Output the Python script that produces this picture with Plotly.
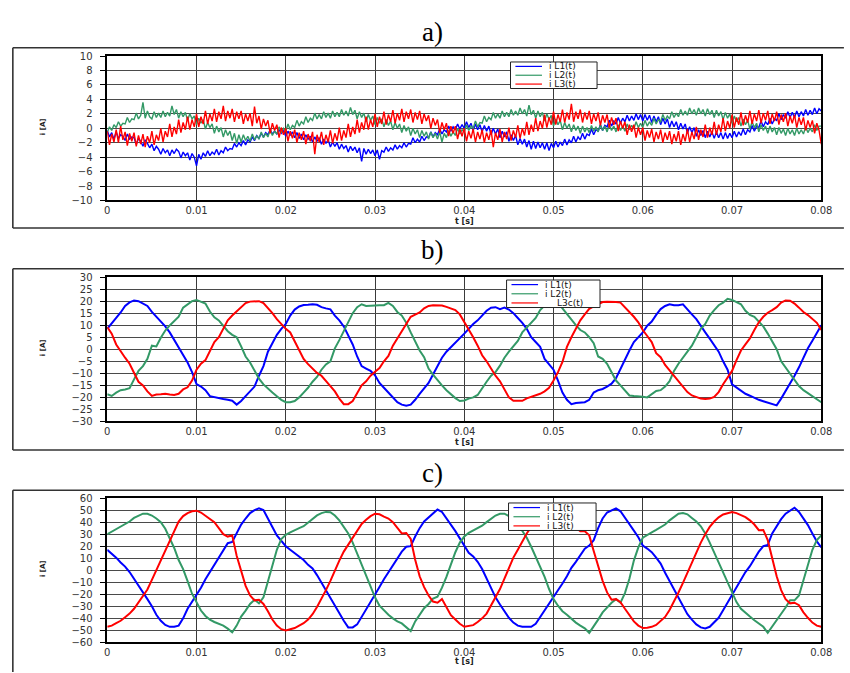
import plotly.graph_objects as go

# ---------------- data ----------------
# panel a: samples every 0.25 ms, 0 ... 80 ms
T_A = [round(i * 0.00025, 6) for i in range(321)]
BLUE_A = [
    -0.3, -1.2, -0.6, -1.5, -0.5, -1.4, -0.9, -1.1, -1.7, -0.8, -1.5, -1.2, -1.3, -2.2, -1.4, -1.8,
    -2.5, -1.6, -2.1, -2.7, -2.2, -3.1, -2.5, -2.9, -3.6, -2.8, -3.4, -3.0, -3.8, -3.0, -3.5, -2.9,
    -3.2, -4.1, -3.3, -3.8, -3.4, -4.4, -3.5, -4.0, -5.2, -3.6, -4.3, -3.4, -3.9, -3.1, -3.8, -3.3,
    -3.6, -2.9, -3.7, -3.1, -3.4, -2.6, -3.1, -2.8, -2.9, -2.1, -2.6, -2.0, -2.4, -1.7, -2.3, -1.6,
    -1.9, -1.2, -1.7, -1.0, -1.4, -0.7, -1.2, -0.6, -0.9, -0.2, -0.8, -0.4, -0.8, -0.2, -0.7, -0.3,
    -1.1, -0.4, -1.0, -0.5, -1.3, -0.6, -1.4, -0.8, -1.6, -0.9, -1.5, -1.1, -1.9, -1.2, -1.8, -1.3,
    -2.2, -1.5, -2.1, -1.6, -2.6, -1.9, -2.5, -2.0, -2.9, -2.2, -2.8, -2.4, -3.3, -2.5, -3.1, -2.6,
    -3.4, -2.7, -4.6, -2.8, -3.6, -2.9, -3.5, -3.0, -3.8, -3.0, -4.3, -3.1, -3.3, -2.6, -3.2, -2.7,
    -3.0, -2.3, -2.9, -2.4, -2.7, -2.0, -2.6, -2.1, -2.2, -1.3, -2.0, -1.5, -1.9, -1.1, -1.7, -1.2,
    -1.3, -0.5, -1.2, -0.6, -0.9, -0.1, -0.8, -0.2, -0.5, 0.3, -0.4, 0.2, -0.2, 0.6, -0.1, 0.5,
    0.0, 0.9, 0.1, 0.7, -0.3, 0.6, -0.2, 0.5, -0.5, 0.4, -0.4, 0.3, -0.9, 0.0, -0.8, -0.1,
    -1.3, -0.4, -1.2, -0.5, -1.8, -0.9, -1.7, -1.0, -2.3, -1.4, -2.2, -1.5, -2.6, -1.7, -2.9, -1.8,
    -2.8, -1.9, -2.7, -2.0, -2.9, -2.0, -3.1, -2.1, -2.7, -1.8, -2.6, -1.9, -2.4, -1.5, -2.3, -1.6,
    -2.0, -1.1, -1.9, -1.2, -1.6, -0.7, -1.5, -0.8, -1.0, -0.1, -0.9, -0.2, -0.4, 0.5, -0.3, 0.4,
    0.2, 1.1, 0.3, 1.0, 0.6, 1.5, 0.7, 1.4, 0.9, 1.8, 1.0, 1.7, 1.1, 2.0, 1.2, 1.9,
    1.0, 1.9, 1.1, 1.8, 0.8, 1.7, 0.9, 1.6, 0.5, 1.4, 0.6, 1.3, 0.1, 1.0, 0.2, 0.9,
    -0.2, 0.7, -0.1, 0.6, -0.7, 0.2, -0.6, 0.1, -1.1, -0.2, -1.0, -0.3, -1.3, -0.4, -1.2, -0.5,
    -1.4, -0.5, -1.3, -0.6, -1.5, -0.6, -1.4, -0.7, -1.3, -0.4, -1.2, -0.5, -1.0, -0.1, -0.9, -0.2,
    -0.5, 0.4, -0.4, 0.3, 0.1, 1.0, 0.2, 0.9, 0.5, 1.4, 0.6, 1.3, 1.1, 2.0, 1.2, 1.9,
    1.4, 2.3, 1.5, 2.2, 1.5, 2.4, 1.6, 2.3, 1.7, 2.6, 1.8, 2.5, 1.9, 2.8, 2.0, 2.7,
    2.4,
]
GREEN_A = [
    -0.6, 0.2, -0.3, 0.5, 0.1, 0.9, 0.3, 0.7, 0.6, 1.5, 0.8, 1.3, 1.2, 2.1, 1.3, 1.8,
    3.6, 1.4, 2.4, 1.6, 1.3, 2.3, 1.5, 2.1, 1.5, 2.4, 1.6, 2.2, 1.7, 3.1, 1.9, 2.6,
    1.4, 2.3, 1.6, 2.2, 1.1, 2.0, 1.3, 1.7, 0.5, 1.4, 0.7, 1.2, -0.1, 0.8, 0.1, 0.6,
    -0.7, 0.3, -0.5, 0.1, -1.2, -0.2, -1.0, -0.4, -1.7, -0.7, -2.1, -0.9, -1.9, -0.9, -1.7, -1.1,
    -1.8, -0.8, -1.6, -1.0, -1.5, -0.5, -1.3, -0.7, -1.2, -0.2, -1.0, -0.4, -0.8, 0.2, -0.6, 0.0,
    -0.4, 0.6, -0.2, 0.4, 0.1, 1.1, 0.3, 0.9, 0.6, 1.6, 0.8, 1.4, 1.1, 2.1, 1.3, 1.9,
    1.3, 2.3, 1.5, 2.1, 1.4, 2.4, 1.6, 2.2, 1.6, 2.6, 1.8, 2.4, 1.7, 2.9, 1.9, 2.5,
    1.3, 2.3, 1.5, 2.1, 0.9, 1.9, 1.1, 1.7, 0.5, 1.5, 0.7, 1.3, 0.2, 1.2, 0.4, 1.0,
    -0.2, 0.8, 0.0, 0.6, -0.6, 0.4, -0.4, 0.2, -1.0, 0.0, -0.8, -0.2, -1.3, -0.3, -1.1, -0.5,
    -1.5, -0.5, -1.3, -0.7, -1.5, -0.5, -1.9, -0.7, -1.3, -0.3, -1.1, -0.5, -1.0, 0.0, -0.8, -0.2,
    -0.5, 0.5, -0.3, 0.3, 0.0, 1.0, 0.2, 0.8, 0.7, 1.7, 0.9, 1.5, 1.2, 2.2, 1.4, 2.0,
    1.4, 2.4, 1.6, 2.2, 1.6, 2.6, 1.8, 2.4, 1.8, 2.8, 2.0, 2.6, 1.7, 3.2, 1.9, 2.5,
    1.4, 2.4, 1.6, 2.2, 1.0, 2.0, 1.2, 1.8, 0.3, 1.3, 0.5, 1.1, -0.2, 0.8, 0.0, 0.6,
    -0.5, 0.5, -0.3, 0.3, -0.7, 0.3, -0.5, 0.1, -0.6, 0.4, -0.4, 0.2, -0.5, 0.5, -0.3, 0.3,
    -0.5, 0.5, -0.3, 0.3, -0.5, 0.5, -0.3, 0.3, -0.4, 0.6, -0.2, 0.4, -0.1, 0.9, 0.1, 0.7,
    0.1, 1.1, 0.3, 0.9, 0.4, 1.4, 0.6, 1.2, 0.9, 1.9, 1.1, 1.7, 1.3, 2.3, 1.5, 2.1,
    1.6, 2.6, 1.8, 2.4, 1.8, 2.8, 2.0, 2.6, 1.8, 2.8, 2.0, 2.6, 1.7, 2.7, 1.9, 2.5,
    1.5, 2.5, 1.7, 2.3, 1.2, 2.2, 1.4, 2.0, 0.7, 1.7, 0.9, 1.5, 0.3, 1.3, 0.5, 1.1,
    -0.1, 0.9, 0.1, 0.7, -0.5, 0.5, -0.3, 0.3, -0.7, 0.3, -0.5, 0.1, -0.9, 0.1, -0.7, -0.1,
    -1.0, 0.0, -0.8, -0.2, -1.0, 0.0, -0.8, -0.2, -0.8, 0.2, -0.6, 0.0, -0.5, 0.5, -0.3, 0.3,
    0.3,
]
RED_A = [
    -0.4, -2.3, -0.8, -1.9, -0.2, -2.0, 0.3, -1.6, -0.5, -2.4, -0.7, -1.8, -0.6, -2.5, -1.0, -2.2,
    -0.8, -2.6, -1.1, -2.0, -0.4, -2.3, -0.9, -1.7, 0.0, -1.9, -0.4, -1.2, 0.6, -1.2, 0.2, -0.8,
    1.2, -0.6, 0.8, -0.2, 1.6, -0.2, 1.2, 0.2, 2.0, 0.2, 1.6, 0.6, 2.4, 0.6, 2.0, 1.0,
    2.7, 0.9, 2.3, 1.3, 3.1, 1.0, 2.4, 1.4, 2.7, 0.9, 2.3, 1.3, 2.4, 0.6, 2.0, 1.0,
    2.1, 0.3, 3.0, 0.7, 1.7, -0.1, 1.3, 0.3, 1.1, -0.7, 0.7, -0.3, 0.5, -1.3, 0.1, -0.9,
    0.0, -1.8, -0.4, -1.4, -0.2, -2.0, -0.6, -1.6, -0.4, -2.2, -0.8, -1.8, -0.5, -3.6, -0.9, -1.9,
    -0.5, -2.3, -0.9, -1.9, -0.3, -2.1, -0.7, -1.7, 0.1, -1.7, -0.3, -1.3, 0.6, -1.2, 0.2, -0.8,
    1.2, -0.6, 0.8, -0.2, 1.6, -0.2, 1.2, 0.2, 2.0, 0.2, 1.6, 0.6, 2.3, 0.5, 1.9, 0.9,
    2.5, 0.7, 2.1, 1.1, 2.7, 0.9, 2.3, 1.3, 2.6, 0.8, 2.2, 1.2, 2.4, 0.6, 2.0, 1.0,
    1.8, 0.0, 1.4, 0.4, 1.2, -0.6, 0.8, -0.2, 0.7, -1.1, 0.3, -0.7, 0.3, -1.5, -0.1, -1.1,
    0.0, -1.8, -0.4, -1.4, -0.1, -1.9, -0.5, -1.5, -0.2, -2.0, -0.6, -1.6, -0.2, -2.6, -0.6, -1.6,
    -0.1, -1.9, -0.5, -1.5, 0.1, -1.7, -0.3, -1.3, 0.4, -1.4, 0.0, -1.0, 0.9, -0.9, 0.5, -0.5,
    1.4, -0.4, 1.0, 0.0, 1.9, 0.1, 1.5, 0.5, 2.3, 0.5, 1.9, 0.9, 2.6, 0.8, 2.2, 1.2,
    3.4, 0.9, 2.3, 1.3, 2.6, 0.8, 2.2, 1.2, 2.4, 0.6, 2.0, 1.0, 2.2, 0.4, 1.8, 0.8,
    1.9, 0.1, 1.5, 0.5, 1.4, -0.4, 1.0, 0.0, 0.9, -0.9, 0.5, -0.5, 0.5, -1.3, 0.1, -0.9,
    0.1, -1.7, -0.3, -1.3, -0.1, -1.9, -0.5, -1.5, -0.2, -2.0, -0.6, -1.6, -0.4, -2.2, -0.8, -1.8,
    -0.4, -2.3, -0.8, -1.8, -0.1, -1.9, -0.5, -1.5, 0.2, -1.6, -0.2, -1.2, 0.5, -1.3, 0.1, -0.9,
    0.9, -0.9, 0.5, -0.5, 1.4, -0.4, 1.0, 0.0, 1.9, 0.1, 1.5, 0.5, 2.2, 0.4, 1.8, 0.8,
    2.4, 0.6, 2.0, 1.0, 2.5, 0.7, 2.1, 1.1, 2.4, 0.6, 2.0, 1.0, 2.3, 0.5, 1.9, 0.9,
    2.1, 0.3, 1.7, 0.7, 1.9, 0.1, 1.5, 0.5, 1.5, -0.3, 1.1, 0.1, 1.1, -0.7, 0.7, -0.3,
    -2.2,
]

# panels b and c: samples every 0.5 ms, 0 ... 80 ms
T_BC = [round(i * 0.0005, 6) for i in range(161)]
BLUE_B = [
    8.5, 11, 13, 15.3, 18, 19.5, 20.3, 20, 19, 18, 15.5, 13.5, 11.8, 9.5, 7, 4, 1, -2.5, -5.5, -9.5,
    -14.5, -15.5, -17, -19.5, -20, -20.5, -20.7, -21, -21.4, -23, -21.5, -19.5, -17.3, -15.5, -11, -7, -1, 2.5, 6, 8.5,
    10.5, 14, 16.5, 17.8, 18.4, 18.5, 18.7, 18.5, 17.5, 17, 16.6, 14, 12, 9.5, 6, 2, -3, -7, -8, -9,
    -10.8, -14, -16, -18, -19.6, -22, -23, -23.5, -23, -21, -18.5, -16.3, -14, -10.5, -7, -3.5, -1, 0.8, 3, 4.5,
    6.5, 8.5, 10.5, 12, 14, 16, 17.3, 17.5, 16.7, 17.3, 16.5, 15, 13, 11, 8.5, 5, 3, 1, -4, -6.5,
    -8.5, -13, -18, -21, -22.8, -22.3, -22, -22, -21, -18, -17, -16.5, -15.5, -14.3, -12, -8, -4.5, -0.5, 3, 5,
    7, 9.8, 11.5, 14.3, 16.7, 18, 18.7, 18.3, 18.3, 18.7, 16.8, 14.5, 12.5, 9.5, 7, 4.4, 1.8, -1, -5, -8.5,
    -14.6, -16, -17.3, -18.5, -19.3, -20.3, -21, -21.6, -22.2, -22.8, -23.3, -20.5, -17.5, -14.5, -11, -7.5, -3.5, 0.4, 3.5, 7,
    10,
]
GREEN_B = [
    -18.7, -19.4, -18, -17, -16.7, -16.2, -12.5, -9, -7, -4, 1.5, 1.2, 4.8, 7.8, 9.9, 11.5, 13.5, 17.3, 18.8, 20,
    20.5, 19.8, 19, 15.7, 13.3, 12, 9.6, 7.5, 6, 5, 1.2, -3, -5.5, -9, -12.2, -14.6, -16.5, -18, -19.5, -21,
    -22, -22, -21.5, -20, -18, -16, -13.5, -11.5, -8.5, -6.3, -5, 0.4, 3.8, 7.5, 11.5, 15, 17.5, 18.7, 18, 18.2,
    18.3, 18.3, 18.3, 19.3, 18, 15.5, 14, 11, 7, 3.5, -0.5, -3.3, -8, -10.5, -13, -15, -17, -18.7, -20.3, -21.5,
    -21.3, -20.5, -20, -19, -16, -13.5, -11, -9.5, -6.8, -3.5, -1, 1.2, 3.5, 7, 9, 11, 13, 16.3, 18.3, 20,
    20.3, 19.5, 17, 14.5, 12.5, 10, 8, 7, 5, 2.5, -3, -4, -6, -9.5, -13, -15, -17, -19.2, -19.4, -19.4,
    -19.7, -20, -18.5, -17.3, -17, -15.5, -13.3, -9, -6, -3.7, -1, 1.5, 4.8, 8.5, 10.5, 14, 16.3, 18.3, 19.4, 21,
    20.5, 19.6, 18.7, 16, 14.3, 13.5, 11.5, 9.5, 6.5, 3, 0, -5, -7.5, -10.5, -13, -15.3, -17, -18.2, -19.5, -20.8,
    -22,
]
RED_B = [
    9.2, 6.5, 2, -1, -3.5, -6, -9.5, -13.5, -15, -17.5, -19.4, -18.8, -18.7, -18.5, -18.8, -19, -18.5, -16.7, -15.8, -13,
    -8.5, -6, -4.5, -0.5, 3, 5, 8.5, 12, 14, 15.8, 17.5, 19.2, 19.8, 20, 20, 19.2, 17.3, 15, 12.5, 10.5,
    8.5, 7, 3.5, -0.5, -4, -6.2, -8, -9.8, -11, -13, -15.3, -17.5, -20.5, -22.8, -22.8, -21.5, -18, -15, -13.3, -11,
    -9.3, -7.8, -5, -2.8, 1.5, 4.5, 8, 10.8, 13.5, 14.4, 15.3, 17, 18, 18.3, 18.4, 18.2, 17.6, 17, 16.3, 14.5,
    11.5, 8.5, 5, 1.5, -2.5, -5, -8, -11, -13.3, -17, -20, -21.4, -21.4, -21.4, -20.4, -19.8, -19.4, -18.5, -17.5, -16,
    -13, -9.5, -5.3, 1, 5, 8.5, 12, 14.5, 16.8, 17.8, 18.8, 19.6, 19.7, 19.8, 19.6, 19.4, 17.5, 15.7, 13.5, 11.2,
    8, 5.5, 3, -1.6, -3.3, -6.5, -8.8, -10.8, -13.3, -15.8, -17.8, -19.2, -20, -20.5, -20.7, -20.5, -19.8, -17.8, -14.5, -12,
    -9, -4.5, -0.5, 2, 4.5, 8, 11.2, 13.5, 15.2, 16.3, 17.5, 19.4, 20.3, 20.2, 19, 17.3, 15.5, 14.2, 12.6, 11,
    8,
]
BLUE_C = [
    17, 14, 10.5, 6.5, 3, -1.5, -7, -12, -18, -24, -30, -37, -42, -45.5, -47, -47, -46, -40, -32, -26,
    -21, -14.5, -7.5, -1.5, 5, 11, 16.5, 22.5, 23.5, 31, 38, 43, 47.5, 50, 51.5, 50, 43.5, 36, 29, 24,
    20, 17, 14, 11.5, 8.5, 4.5, 1.5, -4, -10.5, -17, -23, -30, -36, -42, -47.5, -47.5, -45, -39, -32.5, -26.5,
    -20, -14, -7.5, -2, 4, 10, 15.5, 19.5, 20, 28, 35, 40.5, 44, 47.5, 50.5, 48.5, 43.5, 38, 32.5, 26.5,
    20, 14.5, 11.5, 7, 1, -7, -15, -22.5, -28.5, -34.5, -39.5, -43.5, -46, -47, -47, -47, -44.5, -39, -34, -28,
    -22.5, -16.5, -11, -5, 2, 7, 13, 18, 20.5, 25, 35, 43, 48, 50, 51.5, 49, 44, 39, 33, 27.5,
    20.5, 18, 15, 10.5, 5.5, -2, -9, -16, -22.5, -30, -36.5, -41, -45, -47.5, -48.3, -47, -43.5, -39.5, -33.3, -27,
    -21, -14.3, -7.5, -1.5, 3.4, 10, 15.5, 20, 21, 30.6, 37, 42.5, 47, 49.5, 52, 48.5, 43, 37.5, 30.6, 24,
    19,
]
GREEN_C = [
    30, 32, 34.5, 36.5, 38.5, 40.5, 43.5, 45.5, 47, 47, 45.5, 43, 40, 34.5, 27, 18.5, 8.5, 1, -9, -19.5,
    -26.5, -33.5, -38, -41, -43, -44.5, -46, -48.5, -51.5, -46, -38.5, -33.5, -28, -24.5, -27.5, -22.5, -10, 3, 17, 26,
    29.5, 31.5, 33.5, 35, 36.6, 39.5, 42.5, 45.6, 47.5, 48.5, 48.3, 45.5, 41.5, 36.5, 30.5, 23, 14, 5, -4.5, -14.5,
    -22.5, -29.5, -33.5, -37, -40, -42.5, -44.2, -47.5, -50.5, -42.5, -36.5, -31.5, -28, -23.5, -22, -14.5, -5.5, 5, 15, 23,
    28, 31, 33, 35, 37, 40, 43, 45.5, 47, 47, 45, 42.5, 38.5, 33, 27, 19.5, 11, 3, -5.5, -15.6,
    -24, -29.5, -34, -37, -40.5, -43.5, -46, -48.3, -52, -47, -41, -35, -30.6, -27, -24, -27, -19, -7, 8, 19,
    27, 29.5, 31.5, 33.5, 35.5, 38, 41.5, 44.5, 47, 47.5, 46.5, 43.5, 40.5, 36.5, 30.5, 23, 14.5, 6, -2.5, -11,
    -19, -26.5, -32, -35.5, -38.5, -41.5, -44, -47, -52, -47, -41, -36, -31, -25, -25, -21, -8, 5, 17, 25,
    29,
]
RED_C = [
    -47, -46, -44, -42, -39, -36, -32, -27, -21, -16, -8, 0, 9, 17, 25, 33, 40.5, 45, 47.5, 49,
    49.5, 48, 45.5, 43, 40, 35, 30, 28, 29, 12, -1, -13, -21, -25, -24.5, -28, -34, -41, -46, -49,
    -50, -49, -48, -46, -44, -41, -36.5, -30.6, -24, -16.5, -8.8, 0, 8, 15.5, 21.5, 27.5, 33.5, 38.5, 42, 45,
    47, 46.5, 44.5, 43, 40, 35.5, 30.6, 31, 26, 8.8, -5, -14, -21, -26, -27, -24, -31, -37.4, -41, -44.5,
    -47, -46.5, -45.6, -43, -40, -36, -29.5, -22, -15.6, -7, 2, 10.5, 17, 24, 30.5, 36, 41, 45, 47.5, 48.5,
    48.5, 47, 45, 42, 39, 35.5, 32.5, 32.5, 29, 16, 3.4, -8.8, -18.4, -24.5, -24, -26.5, -32, -37.4, -42.5, -46,
    -48, -47.7, -47, -45.5, -42.5, -38.8, -33, -26, -18.5, -10.5, -2, 6.5, 15, 23, 30, 36, 40.5, 44, 46.4, 47.5,
    48.3, 47.5, 46, 44.2, 41.5, 38, 33.3, 33.5, 25, 8.8, -5, -16.5, -24, -27.5, -27, -29, -35, -39.5, -43.5, -46,
    -47,
]

X_TICKS = [0, 0.01, 0.02, 0.03, 0.04, 0.05, 0.06, 0.07, 0.08]
X_TICK_TEXT = ["0", "0.01", "0.02", "0.03", "0.04", "0.05", "0.06", "0.07", "0.08"]
PANEL_TITLES = ["a)", "b)", "c)"]
SERIES_NAMES = ["i L1(t)", "i L2(t)", "i L3(t)"]
LEGEND_TEXTS = [["i L1(t)", "i L2(t)", "i L3(t)"],
                ["i L1(t)", "i L2(t)", "L3c(t)"],
                ["i L1(t)", "i L2(t)", "i L3(t)"]]
Y_RANGES = [(-10, 10, 2), (-30, 30, 5), (-60, 60, 10)]

# ---------------- styling ----------------
W, H = 850, 673
COLORS = ["#0000ff", "#339966", "#ff0000"]
TICK_FONT = dict(family="DejaVu Sans", size=10, color="#333333")


def px(x):
    return x / W


def py(y):
    return 1 - y / H


PLOT_L, PLOT_R = 106, 832
PANEL_Y = [(51, 198), (276, 423), (501, 648)]
FRAME_Y = [(42.5, 226), (267.5, 452), (493, 700)]
TITLE_Y = [26, 248, 475]
XLABEL_Y = [219.5, 444.5, 667.5]
YLABEL_Y = [123, 348, 573]
LEGEND_BOX = [(516, 57, 604, 84), (512, 279, 607, 307), (514, 506, 603, 534)]

fig = go.Figure()

panels = [
    (T_A, [BLUE_A, GREEN_A, RED_A], 1.4),
    (T_BC, [BLUE_B, GREEN_B, RED_B], 2.0),
    (T_BC, [BLUE_C, GREEN_C, RED_C], 2.0),
]

for p, (tt, series, lw) in enumerate(panels):
    xa = "x" if p == 0 else f"x{p + 1}"
    ya = "y" if p == 0 else f"y{p + 1}"
    for s, vals in enumerate(series):
        fig.add_trace(go.Scatter(
            x=tt, y=vals, mode="lines", name=SERIES_NAMES[s],
            line=dict(color=COLORS[s], width=lw),
            xaxis=xa, yaxis=ya, showlegend=False, hoverinfo="skip",
        ))

# figure fills whatever the browser viewport is (850x673 intended)
layout = dict(
    autosize=True,
    margin=dict(l=0, r=0, t=0, b=0, pad=0),
    paper_bgcolor="white", plot_bgcolor="white",
    showlegend=False,
)

shapes = []
annotations = []
for p in range(3):
    top, bot = PANEL_Y[p]
    xk = "xaxis" if p == 0 else f"xaxis{p + 1}"
    yk = "yaxis" if p == 0 else f"yaxis{p + 1}"
    ylo, yhi, dy = Y_RANGES[p]
    layout[xk] = dict(
        domain=[px(PLOT_L), px(PLOT_R)], range=[0, 0.08],
        anchor="y" if p == 0 else f"y{p + 1}",
        tickmode="array", tickvals=X_TICKS, ticktext=X_TICK_TEXT,
        showgrid=True, gridcolor="#3a3a3a", gridwidth=1,
        showline=True, linecolor="#000000", linewidth=1.5, mirror=True,
        ticks="", tickfont=TICK_FONT, zeroline=False, fixedrange=True,
    )
    layout[yk] = dict(
        domain=[py(bot), py(top)], range=[ylo, yhi],
        anchor="x" if p == 0 else f"x{p + 1}",
        tickmode="linear", tick0=ylo, dtick=dy,
        showgrid=True, gridcolor="#4a4a4a", gridwidth=1,
        showline=True, linecolor="#000000", linewidth=1.5, mirror=True,
        ticks="outside", ticklen=6, tickcolor="#000000", tickwidth=1,
        ticklabelstandoff=5,
        tickfont=TICK_FONT, zeroline=False, fixedrange=True,
    )

    ft, fb = FRAME_Y[p]
    frame_style = dict(color="#333333", width=1.6)
    shapes.append(dict(type="line", xref="paper", yref="paper",
                       x0=px(10), x1=px(W + 5), y0=py(ft), y1=py(ft), line=frame_style))
    shapes.append(dict(type="line", xref="paper", yref="paper",
                       x0=px(10), x1=px(10), y0=py(ft), y1=py(min(fb, H + 5)), line=frame_style))
    if fb < H:
        shapes.append(dict(type="line", xref="paper", yref="paper",
                           x0=px(10), x1=px(W + 5), y0=py(fb), y1=py(fb), line=frame_style))

    annotations.append(dict(text=PANEL_TITLES[p], xref="paper", yref="paper",
                            x=px(437), y=py(TITLE_Y[p]), xanchor="center", yanchor="middle",
                            showarrow=False,
                            font=dict(family="Liberation Serif", size=27, color="#000000")))
    annotations.append(dict(text="<b>t [s]</b>", xref="paper", yref="paper",
                            x=px(469), y=py(XLABEL_Y[p]), xanchor="center", yanchor="middle",
                            showarrow=False,
                            font=dict(family="DejaVu Sans", size=8, color="#222222")))
    annotations.append(dict(text="<b>i [A]</b>", xref="paper", yref="paper",
                            x=px(40), y=py(YLABEL_Y[p]), xanchor="center", yanchor="middle",
                            textangle=-90, showarrow=False,
                            font=dict(family="DejaVu Sans", size=7, color="#222222")))

    lx0, ly0, lx1, ly1 = LEGEND_BOX[p]
    shapes.append(dict(type="rect", xref="paper", yref="paper",
                       x0=px(lx0), x1=px(lx1), y0=py(ly0), y1=py(ly1),
                       fillcolor="white", line=dict(color="#222222", width=1), layer="above"))
    row_h = (ly1 - ly0) / 3.0
    for s in range(3):
        ry = ly0 + row_h * (s + 0.5)
        shapes.append(dict(type="line", xref="paper", yref="paper",
                           x0=px(lx0 + 5), x1=px(lx0 + 32), y0=py(ry), y1=py(ry),
                           line=dict(color=COLORS[s], width=1.2), layer="above"))
        txt = LEGEND_TEXTS[p][s]
        tx = lx0 + 37 if txt.startswith("i") else lx0 + 49
        annotations.append(dict(text=txt, xref="paper", yref="paper",
                                x=px(tx), y=py(ry), xanchor="left", yanchor="middle",
                                showarrow=False,
                                font=dict(family="DejaVu Sans", size=9, color="#111111")))

layout["shapes"] = shapes
layout["annotations"] = annotations
fig.update_layout(**layout)

fig.write_html(
    "out.html", include_plotlyjs=True, full_html=True,
    default_width="100vw", default_height="100vh",
    config=dict(displayModeBar=False, responsive=True),
    post_script=(
        "var h=document.documentElement, b=document.body;"
        "h.style.margin='0'; h.style.padding='0'; h.style.overflow='hidden';"
        "b.style.margin='0'; b.style.padding='0'; b.style.overflow='hidden';"
        "var d=document.getElementById('{plot_id}');"
        "d.style.position='fixed'; d.style.left='0px'; d.style.top='0px';"
        "d.style.width='100vw'; d.style.height='100vh';"
        "Plotly.Plots.resize(d);"
    ),
)
